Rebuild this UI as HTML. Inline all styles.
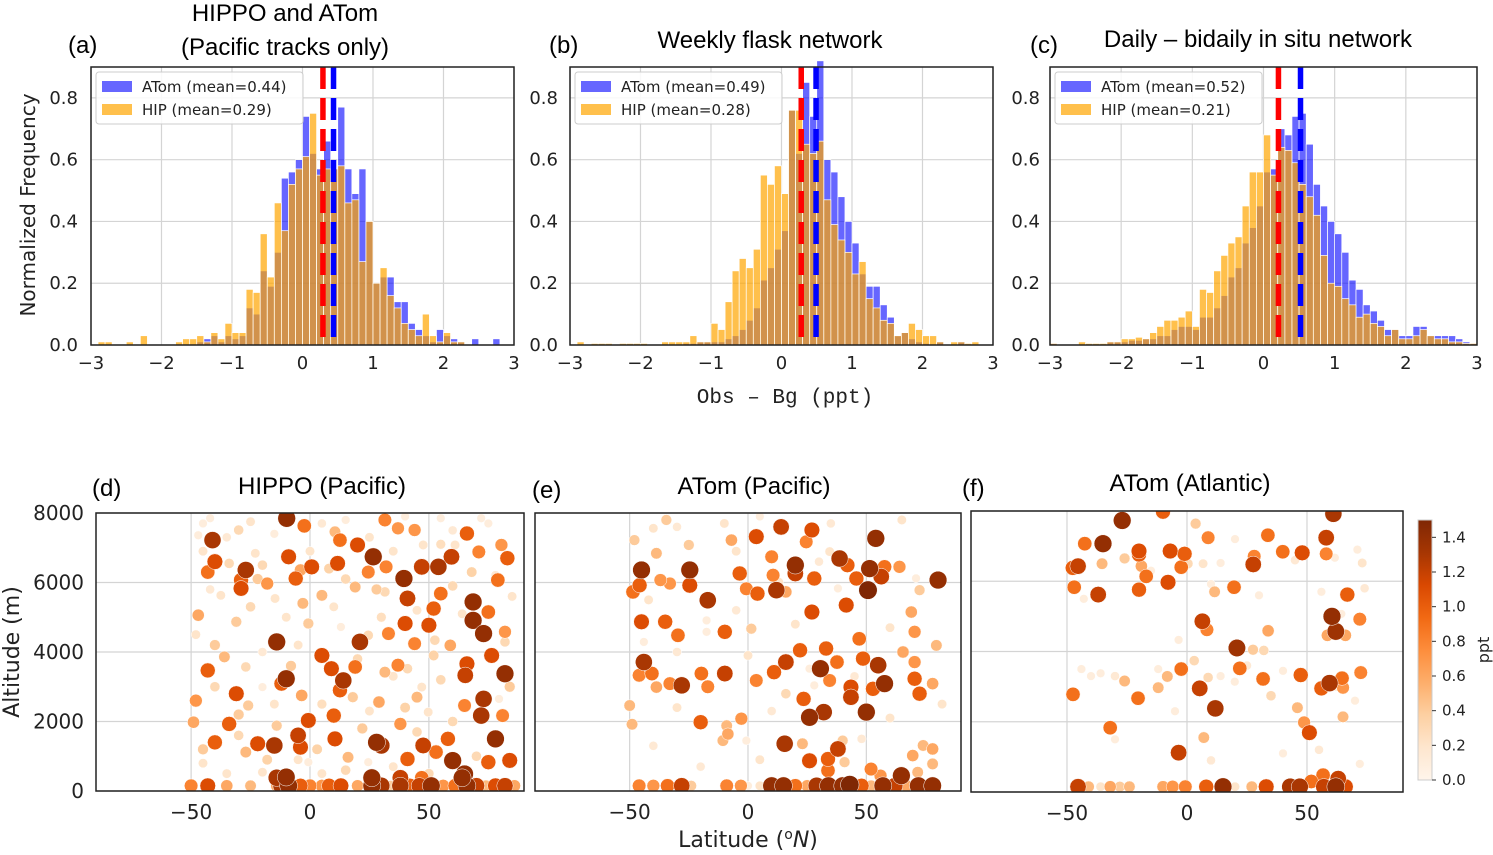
<!DOCTYPE html>
<html><head><meta charset="utf-8">
<style>
html,body{margin:0;padding:0;background:#fff;}
svg{display:block;}
text{font-family:"DejaVu Sans","Liberation Sans",sans-serif;fill:#222;}
.ttl{font-family:"Liberation Sans","DejaVu Sans",sans-serif;font-size:24px;fill:#000;}
.tick{font-size:18px;}
.btick{font-size:20px;}
.leg{font-size:15px;}
</style></head>
<body>
<svg id="fig" width="1493" height="855" viewBox="0 0 1493 855" xmlns="http://www.w3.org/2000/svg">
<text class="ttl" x="285" y="21" text-anchor="middle">HIPPO and ATom</text>
<text class="ttl" x="285" y="55" text-anchor="middle">(Pacific tracks only)</text>
<text class="ttl" x="68" y="53">(a)</text>
<text class="ttl" x="549" y="53">(b)</text>
<text class="ttl" x="770" y="48" text-anchor="middle">Weekly flask network</text>
<text class="ttl" x="1030" y="53">(c)</text>
<text class="ttl" x="1258" y="47" text-anchor="middle">Daily – bidaily in situ network</text>
<text font-size="20" transform="translate(35,205) rotate(-90)" text-anchor="middle">Normalized Frequency</text>
<text x="785" y="403" font-size="21" text-anchor="middle" style="font-family:'Liberation Mono',monospace">Obs – Bg (ppt)</text>
<text class="ttl" x="92" y="496">(d)</text>
<text class="ttl" x="322" y="494" text-anchor="middle">HIPPO (Pacific)</text>
<text class="ttl" x="532" y="498">(e)</text>
<text class="ttl" x="754" y="494" text-anchor="middle">ATom (Pacific)</text>
<text class="ttl" x="962" y="496">(f)</text>
<text class="ttl" x="1190" y="491" text-anchor="middle">ATom (Atlantic)</text>
<text font-size="22" transform="translate(19,652) rotate(-90)" text-anchor="middle">Altitude (m)</text>
<text x="748" y="847" font-size="22" text-anchor="middle">Latitude (<tspan font-size="14" dy="-8">o</tspan><tspan dy="8" font-style="italic">N</tspan>)</text>
<text font-size="16" transform="translate(1489,650) rotate(-90)" text-anchor="middle">ppt</text>
</svg>
<script>
const NS="http://www.w3.org/2000/svg";
const svg=document.getElementById('fig');
// ---------- histogram data (bins of 0.1 ppt from -3 to 3) ----------
const binStart=-3, binWidth=0.1;
const yTicksTop=[0.0,0.2,0.4,0.6,0.8];
const xTicksTop=[-3,-2,-1,0,1,2,3];
const legendLabelsA=["ATom (mean=0.44)","HIP (mean=0.29)"];
const legendLabelsB=["ATom (mean=0.49)","HIP (mean=0.28)"];
const legendLabelsC=["ATom (mean=0.52)","HIP (mean=0.21)"];
const meansA=[0.44,0.29], meansB=[0.49,0.28], meansC=[0.52,0.21];
const hipA=[0,0.01,0.01,0,0,0.01,0,0.03,0,0,0,0,0.01,0.02,0.02,0.03,0.01,0.04,0.02,0.07,0.04,0.04,0.18,0.17,0.36,0.22,0.46,0.37,0.52,0.57,0.61,0.75,0.55,0.57,0.57,0.58,0.46,0.47,0.27,0.40,0.20,0.25,0.16,0.12,0.07,0.05,0.03,0.10,0.03,0.01,0.04,0.01,0.01,0,0,0,0,0,0,0];
const atomA=[0,0,0,0,0,0,0,0,0,0,0,0,0,0,0,0.01,0.02,0.03,0.01,0.03,0.02,0.03,0.12,0.10,0.24,0.19,0.30,0.54,0.56,0.60,0.74,0.62,0.57,0.66,0.57,0.77,0.57,0.49,0.57,0.40,0.20,0.22,0.22,0.14,0.14,0.07,0.05,0.03,0.01,0.05,0.03,0.02,0.01,0,0.02,0,0,0.02,0,0];
const hipB=[0,0.01,0,0.005,0.005,0.005,0,0.005,0.005,0.005,0.005,0,0,0.01,0.01,0.01,0.01,0.03,0.01,0.01,0.07,0.05,0.14,0.24,0.28,0.25,0.31,0.55,0.52,0.58,0.49,0.76,0.76,0.65,0.62,0.66,0.47,0.39,0.34,0.30,0.23,0.27,0.15,0.12,0.08,0.07,0.03,0.04,0.07,0.05,0.03,0.03,0.01,0,0.01,0.01,0.005,0.01,0,0];
const atomB=[0,0,0,0,0,0,0,0,0,0,0,0,0,0,0,0,0.005,0.005,0.01,0.01,0.01,0.01,0.02,0.03,0.05,0.08,0.12,0.21,0.25,0.31,0.37,0.76,0.62,0.85,0.74,0.92,0.60,0.56,0.48,0.40,0.33,0.23,0.19,0.19,0.13,0.09,0.03,0.04,0.02,0.01,0.005,0,0.01,0,0,0.01,0,0,0,0];
const hipC=[0.005,0,0,0,0.01,0.005,0.005,0.005,0.01,0.01,0.02,0.02,0.025,0.02,0.04,0.06,0.08,0.08,0.09,0.11,0.06,0.18,0.17,0.24,0.29,0.33,0.35,0.45,0.56,0.56,0.68,0.55,0.64,0.63,0.59,0.52,0.48,0.42,0.29,0.20,0.19,0.15,0.13,0.09,0.10,0.07,0.06,0.03,0.05,0.02,0.02,0.03,0.05,0.03,0.02,0.02,0.01,0.01,0.005,0.005];
const atomC=[0.005,0,0,0,0,0,0,0,0.01,0.01,0.01,0.015,0.015,0.02,0.02,0.03,0.03,0.05,0.06,0.06,0.05,0.09,0.09,0.12,0.16,0.22,0.25,0.33,0.38,0.45,0.56,0.57,0.70,0.68,0.74,0.75,0.65,0.52,0.45,0.40,0.36,0.30,0.21,0.18,0.13,0.11,0.08,0.05,0.05,0.03,0.03,0.06,0.06,0.03,0.03,0.03,0.03,0.02,0.01,0.005];

// ---------- scatter data: [latitude (deg N), altitude (m), Obs-Bg (ppt)] ----------
const latTicks=[-50,0,50];
const altTicks=[0,2000,4000,6000,8000];
const cbarTicks=[0.0,0.2,0.4,0.6,0.8,1.0,1.2,1.4];
const pointsD=[[-9.8,7846,1.4],[-2.4,7630,0.9],[-41,7220,1.3],[-40,6600,1.1],[-43,6300,0.9],[-27,6360,1.3],[-29,6070,1.0],[-29,5830,1.1],[-18,5970,0.7],[-9,6740,1.1],[-6,6115,1.0],[0.7,6450,1.1],[-4,6360,0.6],[11.6,6550,1.1],[12.6,7220,0.9],[20,7080,1.1],[26.6,6740,1.4],[32,6450,0.8],[39.5,6115,1.4],[41,5540,1.2],[47,6450,1.2],[54,6450,1.3],[59.5,6740,1.2],[66,7410,1.0],[68.6,5440,1.4],[68.6,4910,1.4],[73,4530,1.4],[76.4,3900,1.1],[82,3375,1.4],[73,2650,1.3],[72,2170,1.3],[78,1500,1.4],[66,3660,1.1],[65.3,3330,1.2],[83,6700,1.0],[80.5,7080,0.7],[79,6070,0.9],[75,5150,0.9],[55,5680,0.9],[52,5250,1.0],[50,4770,1.1],[44,4240,0.8],[40,4820,1.1],[33,4530,0.8],[21,4290,1.3],[31.5,7800,0.8],[37,7560,0.7],[44,7510,0.7],[78,6210,0.15],[72,7850,0.1],[55,7850,0.1],[13,4720,0.1],[-14,4290,1.4],[-10,3230,1.4],[-12,3090,1.0],[-31,2800,1.1],[-43,3470,1.0],[-48,2600,0.7],[-49,1980,0.6],[-34,1930,1.0],[-40,1400,1.0],[-22,1360,1.1],[-15,1310,1.3],[-5,1600,1.2],[-4,1260,1.1],[-0.7,2030,1.1],[5,3900,1.1],[9,3520,1.1],[14,3180,1.3],[12.6,2900,1.0],[19,3570,0.9],[10,2170,1.0],[10.5,1500,1.1],[-3.5,2750,0.6],[16,970,0.5],[28,1400,1.4],[30,1310,1.3],[37,3620,0.8],[29,2560,0.6],[38,1930,0.7],[47.6,1310,1.2],[41,920,1.0],[53,1120,0.9],[58,1500,1.0],[60,875,1.4],[65,490,1.4],[75,830,1.0],[84,880,1.1],[65,2460,0.8],[81,2170,0.8],[59,4190,0.6],[82,4580,0.7],[-30,7510,0.3],[-34,6550,0.3],[-23,6840,0.2],[5,5630,0.5],[-3,5400,0.5],[-0.7,4820,0.4],[-37.5,5630,0.2],[-47,5060,0.6],[-31,4870,0.4],[-36,3860,0.5],[-27,3570,0.3],[-20,2990,0.1],[-26,2460,0.4],[-14,1880,0.4],[-27,1120,0.5],[-20,540,0.2],[-0.7,830,0.1],[24.5,830,0.1],[31.5,3420,0.5],[41,3520,0.3],[47,2990,0.2],[45,2700,0.5],[31.5,5730,0.3],[19,5870,0.5],[10.5,7460,0.5],[61,7080,0.2],[71,6880,0.8],[64,5100,0.2],[82,4290,0.3],[52.5,4340,0.3],[79.5,2650,0.1],[49.7,2270,0.2],[24.5,6300,0.8],[24.5,4480,0.3],[-42,7850,0.1],[-47,7360,0.1],[47.6,7080,0.2],[-14.7,5540,0.2],[-50,150,0.8],[-43,150,1.1],[-35,150,0.6],[-25,150,0.5],[-14,150,0.6],[-12,150,1.3],[-9,150,1.4],[-4,150,1.0],[0,150,0.8],[5,150,0.7],[8,150,1.0],[13,150,1.1],[20,150,0.6],[26,150,1.4],[30,150,1.3],[34,150,0.4],[38,150,1.3],[42,150,1.0],[46,150,1.2],[51,150,1.4],[56,150,0.7],[61,150,0.9],[66,150,1.4],[70,150,1.2],[74,150,0.5],[78,150,1.1],[82,150,1.2],[86,150,0.6],[-14,380,1.3],[-10,400,1.4],[26,380,1.4],[38,380,1.2],[47,380,0.9],[64,380,1.4],
[-45,7700,0.1],[-35,7300,0.15],[-25,7750,0.2],[-15,7400,0.1],[5,7700,0.15],[15,7800,0.1],[25,7300,0.2],[40,7900,0.1],[60,7500,0.15],[75,7700,0.1],[-45,6900,0.2],[-20,6500,0.3],[0,6900,0.2],[15,6100,0.3],[35,6900,0.2],[55,7100,0.25],[85,5600,0.2],[-42,5800,0.15],[-25,5300,0.3],[-10,5000,0.2],[10,5300,0.2],[30,5000,0.25],[45,5200,0.2],[60,5900,0.3],[-48,4500,0.2],[-20,4000,0.15],[-5,4200,0.2],[20,3800,0.3],[35,3300,0.2],[55,3200,0.3],[-40,3000,0.3],[-15,2500,0.2],[5,2500,0.25],[25,2300,0.2],[45,1700,0.3],[60,2000,0.3],[-45,800,0.2],[-30,1600,0.3],[-5,900,0.2],[15,600,0.3],[35,700,0.2],[70,1000,0.3],[-35,500,0.2],[5,500,0.2],[50,500,0.3],[-40,4200,0.4],[-22,6100,0.4],[8,6400,0.35],[28,5800,0.4],[52,3900,0.35],[-8,3600,0.4],[18,2700,0.4],[40,2400,0.35],[-30,2200,0.4],[-45,1200,0.4],[-18,900,0.35],[22,1800,0.4],[3,1200,0.35],[68,6300,0.35],[84,3000,0.4]];
const pointsE=[[-45,6360,1.4],[-24.6,6360,1.4],[-17,5490,1.3],[-24.6,5920,1.1],[-45.8,5920,1.0],[-48.6,5730,0.9],[-45,4870,1.1],[-35,4870,1.0],[-29.6,4480,0.9],[-33,5970,0.7],[-37,6070,0.7],[-38.7,6840,0.5],[-48,7220,0.4],[-34.5,7800,0.4],[-40,7560,0.2],[-25,7080,0.4],[-7,7220,0.6],[3.5,7320,1.1],[14,7600,1.2],[27,7510,1.1],[24.6,7170,0.8],[-3.5,6260,1.0],[10,6740,0.8],[20,6500,1.4],[20,6260,1.2],[28,6115,1.0],[10.6,6210,0.8],[12,5780,1.3],[16,5730,0.6],[-0.7,5820,0.8],[4,5680,1.0],[27,5150,1.1],[38.7,6690,1.3],[42,6500,1.0],[45.8,6115,1.0],[50.7,5780,1.5],[51.4,6400,1.4],[54,7270,1.4],[56.3,6170,1.2],[57.7,6450,0.9],[80.3,6070,1.4],[41.5,5350,1.1],[64,6450,0.7],[69,5150,0.6],[70.4,4580,0.7],[79.6,4190,0.5],[47,4380,0.9],[72.5,5780,0.4],[71,6120,0.1],[38,5830,0.1],[22,4050,1.0],[33,4100,1.0],[16,3710,1.2],[11,3420,1.0],[30.6,3520,1.4],[37.6,3710,0.9],[48.6,3810,1.0],[55,3620,1.3],[57.7,3090,1.4],[52.8,2940,1.0],[43.5,2990,1.1],[43.5,2700,1.2],[50,2270,1.4],[32,2270,1.3],[26,2120,1.4],[23.5,2650,1.0],[34.5,3180,0.8],[65.5,4000,0.6],[70.4,3710,0.7],[72.5,2800,1.0],[78,3090,0.6],[70.4,3230,1.0],[-44,3710,1.3],[-40.6,3380,0.9],[-46,3330,0.8],[-28,3040,1.3],[-19.7,3380,0.9],[-17,3000,0.8],[-9.8,3380,1.2],[3.5,3180,0.8],[-33,3090,0.8],[-38.7,2990,0.6],[-50,2460,0.5],[-49,1920,0.5],[-20,1980,1.0],[-9,1880,0.5],[-2.8,2080,0.7],[-8.5,1640,0.6],[-10.6,1450,0.5],[-0.7,1450,0.1],[15.5,1360,1.3],[23,1360,0.5],[26,870,1.1],[33.8,920,1.0],[33.8,590,0.9],[38,1210,1.2],[40,1450,0.4],[40.8,830,0.4],[69.6,1020,0.6],[74,1310,0.5],[78,1210,0.6],[78,780,0.5],[64.8,440,1.4],[52,630,0.8],[56,440,0.7],[71.7,540,0.5],[-17.5,4910,0.1],[-17.5,4580,0.1],[-44,4290,0.1],[1.4,4670,0.4],[13,6010,0.2],[34.5,6890,0.2],[26,3520,0.1],[28,3040,0.1],[16,2800,0.3],[-9.8,4580,1.0],[-46,150,0.8],[-40,150,0.7],[-34,150,0.9],[-28,150,1.2],[-24,150,0.4],[-9,150,0.8],[-3,150,0.7],[0,150,0.1],[5,150,0.2],[10,150,1.4],[15,150,1.4],[20,150,0.9],[25,150,0.6],[29,150,1.3],[34,150,1.4],[40,150,1.4],[43,180,1.5],[48,150,1.0],[52,150,0.5],[57,150,1.4],[62,150,1.2],[67,150,0.6],[72,150,1.4],[78,150,1.4],
[-30,7600,0.15],[-10,7700,0.2],[5,7900,0.1],[35,7700,0.15],[65,7800,0.2],[-5,6900,0.2],[30,6600,0.15],[-42,5500,0.2],[-5,5200,0.15],[20,4800,0.2],[60,4700,0.2],[-30,4000,0.15],[0,3900,0.2],[45,3300,0.15],[-30,2400,0.2],[10,2300,0.15],[60,2100,0.2],[-40,1300,0.15],[5,900,0.2],[48,1500,0.15],[-20,700,0.15],[82,2500,0.2]];
const pointsF=[[-27,7730,1.4],[-10,7980,1.0],[-35,7070,1.4],[-42.6,7070,0.9],[-45.4,6430,1.2],[-47.6,6380,1.0],[-35.4,6500,0.5],[-26,6650,0.4],[-20,6860,1.1],[-20,6760,1.0],[-19,6430,0.6],[-17,6140,0.9],[-7,6860,1.1],[-1,6780,1.0],[-2.4,6400,0.9],[0.4,6500,0.3],[-7.9,5970,1.1],[-20,5760,1.0],[-47,5830,0.9],[-37,5620,1.2],[-43,5500,0.1],[3.6,7640,0.4],[8.8,7240,0.8],[6.7,6500,0.2],[14,6520,0.1],[10,5920,0.1],[11.5,5700,0.5],[19.6,5830,0.9],[27.6,6480,1.2],[28,6710,0.8],[33.7,7310,0.9],[39.9,6840,0.9],[48,6810,1.1],[58,7240,1.2],[61,7920,1.3],[58,6780,0.8],[61.6,6670,0.1],[71,6900,0.1],[73,6520,0.2],[66.8,5620,1.0],[56,5700,0.1],[60.4,5000,1.4],[64.3,5070,0.1],[62,4570,1.35],[58.5,4460,0.6],[66,4460,0.6],[72,4920,0.8],[6.4,4860,1.2],[8.3,4620,0.8],[-3.5,4330,0.1],[20.8,4100,1.35],[27.5,4050,0.4],[32,4030,0.3],[33.8,4590,0.6],[-2.4,3500,0.9],[3,3740,0.3],[-8.2,3290,0.5],[-12,2970,0.5],[-26,3160,0.5],[-20.4,2670,0.9],[8.8,3260,0.3],[5.3,2950,1.2],[22,3520,0.9],[31.7,3220,0.9],[35,2740,0.3],[19.9,3140,0.1],[47.4,3330,1.0],[59.4,3100,1.3],[56,2950,1.0],[64.6,3240,0.9],[65,2970,0.7],[72.4,3400,0.8],[11.8,2380,1.3],[46,2400,0.5],[48.8,1980,0.7],[51,1690,1.1],[65,2140,0.5],[-32,1830,0.9],[-47.5,2780,0.9],[-36,3380,0.1],[-3.5,1120,1.2],[7,1550,0.5],[56.7,480,0.9],[51.8,300,0.9],[63,380,1.2],[-45.4,150,1.2],[-41,150,0.5],[-36,150,0.2],[-32,150,0.6],[-28,150,0.4],[-24,150,0.5],[-10,150,0.6],[-6,150,0.7],[-0.7,150,0.8],[8,150,1.0],[15,150,1.4],[20,150,0.2],[27,150,0.5],[33,150,1.1],[43,150,1.3],[47,150,1.3],[57,150,1.2],[62,150,1.4],[66,150,1.1],
[-44,3500,0.1],[-40,3300,0.1],[-30,3300,0.15],[-12,3500,0.1],[14,3300,0.1],[25,3600,0.15],[40,3450,0.1],[62,3000,0.15],[70,2600,0.1],[-15,6300,0.1],[20,7200,0.1],[45,6600,0.15],[30,5600,0.1],[74,5800,0.15],[-30,1500,0.1],[10,900,0.15],[40,1100,0.1],[55,1200,0.15],[72,800,0.1],[-5,2300,0.1]];

// ---------- helpers ----------
function mk(tag,attrs,parent){const e=document.createElementNS(NS,tag);for(const k in attrs)e.setAttribute(k,attrs[k]);(parent||svg).appendChild(e);return e;}
const oranges=[[0,[255,245,235]],[0.125,[254,230,206]],[0.25,[253,208,162]],[0.375,[253,174,107]],[0.5,[253,141,60]],[0.625,[241,105,19]],[0.75,[217,72,1]],[0.875,[166,54,3]],[1,[127,39,4]]];
function cmap(t){t=Math.max(0,Math.min(1,t));for(let i=1;i<oranges.length;i++){if(t<=oranges[i][0]){const a=oranges[i-1],b=oranges[i];const f=(t-a[0])/(b[0]-a[0]);const c=a[1].map((v,j)=>Math.round(v+f*(b[1][j]-v)));return `rgb(${c[0]},${c[1]},${c[2]})`;}}return 'rgb(127,39,4)';}
const vmax=1.5;

function histPanel(id,L,R,T,B,atom,hip,means,labels,tickX){
  const xs=v=>L+(v+3)/6*(R-L);
  const ys=v=>B-v/0.9*(B-T);
  const g=mk('g',{});
  
  
  mk('rect',{x:L,y:T,width:R-L,height:B-T,fill:'#fff'},g);
  xTicksTop.forEach(v=>{const l=mk('line',{x1:xs(v),x2:xs(v),y1:T,y2:B,stroke:'#d4d4d4','stroke-width':1.2},g);});
  yTicksTop.forEach(v=>{const l=mk('line',{x1:L,x2:R,y1:ys(v),y2:ys(v),stroke:'#d4d4d4','stroke-width':1.2},g);});
  const drawBars=(arr,color,name)=>arr.forEach((v,i)=>{if(v<=0)return;const x0=xs(binStart+i*binWidth),x1=xs(binStart+(i+1)*binWidth);const r=mk('rect',{x:x0,y:ys(v),width:x1-x0,height:B-ys(v),fill:color,stroke:'#fff','stroke-width':0.7},g);});
  drawBars(atom,'rgba(0,0,255,0.6)','atom-bar');
  drawBars(hip,'rgba(255,165,0,0.7)','hip-bar');
  const m1=mk('line',{x1:xs(means[1]),x2:xs(means[1]),y1:T,y2:B,stroke:'#ff0000','stroke-width':5.5,'stroke-dasharray':'22 9'},g);
  
  const m0=mk('line',{x1:xs(means[0]),x2:xs(means[0]),y1:T,y2:B,stroke:'#0000ff','stroke-width':5.5,'stroke-dasharray':'22 9'},g);
  
  const fr=mk('rect',{x:L,y:T,width:R-L,height:B-T,fill:'none',stroke:'#222','stroke-width':1.5},g);
  
  yTicksTop.forEach(v=>{const t=mk('text',{x:tickX,y:ys(v)+6,'text-anchor':'end',class:'tick'},g);t.textContent=v.toFixed(1);});
  xTicksTop.forEach(v=>{const t=mk('text',{x:xs(v),y:B+24,'text-anchor':'middle',class:'tick'},g);t.textContent=(v<0?'\u2212':'')+Math.abs(v);});
  const lg=mk('g',{},g);
  
  mk('rect',{x:L+5,y:T+5,width:207,height:52,rx:3,fill:'rgba(255,255,255,0.85)',stroke:'#ccc','stroke-width':1},lg);
  const cols=['rgba(0,0,255,0.6)','rgba(255,165,0,0.7)'];
  labels.forEach((lab,i)=>{const e=mk('g',{},lg);mk('rect',{x:L+11,y:T+14+i*23,width:30,height:11,fill:cols[i]},e);const t=mk('text',{x:L+51,y:T+25+i*23,class:'leg'},e);t.textContent=lab;});
}
histPanel('panel-a',91,514,67,345,atomA,hipA,meansA,legendLabelsA,78);
histPanel('panel-b',570,993,67,345,atomB,hipB,meansB,legendLabelsB,558);
histPanel('panel-c',1050,1477,67,345,atomC,hipC,meansC,legendLabelsC,1040);

function scatterPanel(id,L,R,T,B,pts,showY){
  const cx=(L+R)/2, half=(R-L)/2;
  const xs=v=>cx+v/90*half;
  const ys=v=>B-v/8000*(B-T);
  const g=mk('g',{});
  
  
  latTicks.forEach(v=>{const l=mk('line',{x1:xs(v),x2:xs(v),y1:T,y2:B,stroke:'#d4d4d4','stroke-width':1.2},g);});
  altTicks.forEach(v=>{const l=mk('line',{x1:L,x2:R,y1:ys(v),y2:ys(v),stroke:'#d4d4d4','stroke-width':1.2},g);});
  const sorted=pts.slice().sort((a,b)=>a[2]-b[2]);
  const clip=mk('clipPath',{id:id+'-clip'},g);mk('rect',{x:L,y:T,width:R-L,height:B-T},clip);
  const pg=mk('g',{'clip-path':`url(#${id}-clip)`},g);
  sorted.forEach(p=>{const c=mk('circle',{cx:xs(p[0]),cy:ys(p[1]),r:4+p[2]*3.5,fill:cmap(p[2]/vmax),stroke:'#fff','stroke-width':0.5},pg);});
  const fr=mk('rect',{x:L,y:T,width:R-L,height:B-T,fill:'none',stroke:'#222','stroke-width':1.5},g);
  
  latTicks.forEach(v=>{const t=mk('text',{x:xs(v),y:B+28,'text-anchor':'middle',class:'btick'},g);t.textContent=(v<0?'\u2212':'')+Math.abs(v);});
  if(showY)altTicks.forEach(v=>{const t=mk('text',{x:L-12,y:ys(v)+7,'text-anchor':'end',class:'btick'},g);t.textContent=v;});
}
scatterPanel('panel-d',96,524,513,791,pointsD,true);
scatterPanel('panel-e',535,961,513,791,pointsE,false);
scatterPanel('panel-f',971,1403,511,792,pointsF,false);

(function(){
  const L=1418,R=1432,T=520,B=780;
  const ys=v=>B-v/vmax*(B-T);
  const g=mk('g',{});
  
  
  const defs=mk('defs',{},g);
  const lg=mk('linearGradient',{id:'cbg',x1:0,y1:1,x2:0,y2:0},defs);
  oranges.forEach(s=>mk('stop',{offset:s[0],'stop-color':`rgb(${s[1].join(',')})`},lg));
  mk('rect',{x:L,y:T,width:R-L,height:B-T,fill:'url(#cbg)',stroke:'#ccc','stroke-width':1},g);
  cbarTicks.forEach(v=>{mk('line',{x1:R,x2:R+4,y1:ys(v),y2:ys(v),stroke:'#333'},g);const t=mk('text',{x:R+10,y:ys(v)+5,'font-size':15},g);t.textContent=v.toFixed(1);});
})();
</script>
</body></html>
